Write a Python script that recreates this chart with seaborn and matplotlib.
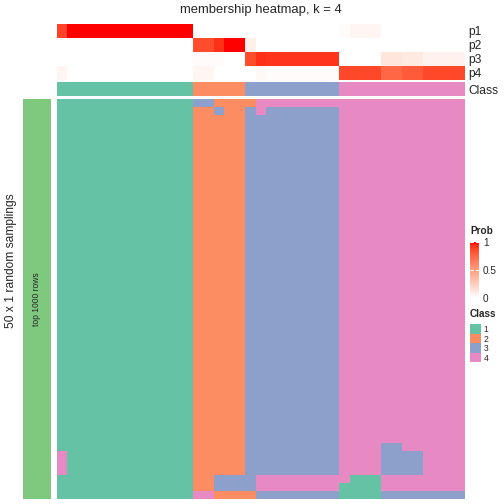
import numpy as np
import matplotlib
matplotlib.use('Agg')
import matplotlib.pyplot as plt
import seaborn as sns
from matplotlib.colors import ListedColormap, LinearSegmentedColormap

sns.set_style('white')
plt.rcParams['font.family'] = ['Liberation Sans', 'DejaVu Sans']

# Membership probabilities for the 39 samples (columns)
p1 = [0.88, 1, 1, 1, 1, 1, 1, 1, 1, 1, 1, 1, 1,
      0, 0, 0, 0, 0,
      0, 0, 0, 0, 0, 0, 0, 0, 0,
      0.02, 0.05, 0.05, 0.05, 0, 0, 0, 0, 0, 0, 0, 0]
p2 = [0, 0, 0, 0, 0, 0, 0, 0, 0, 0, 0, 0, 0,
      0.85, 0.85, 0.93, 1, 1,
      0.08, 0, 0, 0, 0, 0, 0, 0, 0,
      0, 0, 0, 0, 0, 0, 0, 0, 0, 0, 0, 0]
p3 = [0, 0, 0, 0, 0, 0, 0, 0, 0, 0, 0, 0, 0,
      0.02, 0.02, 0.02, 0, 0,
      0.85, 0.93, 0.92, 0.92, 0.92, 0.92, 0.92, 0.92, 0.92,
      0.01, 0, 0, 0, 0.13, 0.13, 0.11, 0.11, 0.07, 0.07, 0.07, 0.07]
p4 = [0.05, 0, 0, 0, 0, 0, 0, 0, 0, 0, 0, 0, 0,
      0.05, 0.05, 0, 0, 0,
      0, 0.04, 0.02, 0.02, 0.02, 0.02, 0.02, 0.02, 0.02,
      0.87, 0.87, 0.87, 0.87, 0.75, 0.75, 0.8, 0.8, 0.87, 0.87, 0.87, 0.87]
prob_labels = ['p1', 'p2', 'p3', 'p4']

# Consensus class of each sample
class_row = ("1111111111111" "22222" "333333333" "444444444444")

# Class assigned in each of the 50 random samplings (run-length: pattern, repeats)
sampling_patterns = [
    ("1111111111111" "33" "2222" "44444444444444444444", 1),
    ("1111111111111" "22" "3" "22" "3" "4" "3333333" "444444444444", 1),
    ("1111111111111" "22222" "333333333" "444444444444", 41),
    ("1111111111111" "22222" "333333333" "4444" "33" "444444", 1),
    ("4" "111111111111" "22222" "333333333" "4444" "3333" "4444", 3),
    ("1111111111111" "22" "3333" "444444444" "111" "44444444", 1),
    ("1111111111111" "22" "3333" "44444444" "1111" "44444444", 1),
    ("1111111111111" "44" "2222" "33333333" "1111" "33333333", 1),
]

class_colors = ['#66C2A5', '#FC8D62', '#8DA0CB', '#E78AC3']
class_names = ['1', '2', '3', '4']


def lab_to_rgb(L, a, b):
    fy = (L + 16) / 116
    fx = fy + a / 500
    fz = fy - b / 200

    def finv(t):
        return t ** 3 if t > 6 / 29 else 3 * (6 / 29) ** 2 * (t - 4 / 29)

    X, Y, Z = 0.95047 * finv(fx), finv(fy), 1.08883 * finv(fz)
    lin = [3.2406 * X - 1.5372 * Y - 0.4986 * Z,
           -0.9689 * X + 1.8758 * Y + 0.0415 * Z,
           0.0557 * X - 0.2040 * Y + 1.0570 * Z]
    out = []
    for c in lin:
        c = 12.92 * c if c <= 0.0031308 else 1.055 * c ** (1 / 2.4) - 0.055
        out.append(min(max(c, 0), 1))
    return out


# white -> red ramp interpolated in LAB space
ts = np.linspace(0, 1, 21)
prob_cmap = LinearSegmentedColormap.from_list(
    'prob', [lab_to_rgb(100 - t * 46.76, t * 80.09, t * 67.20) for t in ts])
class_cmap = ListedColormap(class_colors)

W = 504.0


def rect(x0, y0, x1, y1):
    return [x0 / W, 1 - y1 / W, (x1 - x0) / W, (y1 - y0) / W]


prob = np.array([p1, p2, p3, p4])
cls = np.array([[int(c) for c in class_row]])
rows = []
for pattern, n in sampling_patterns:
    for _ in range(n):
        rows.append([int(c) for c in pattern])
main = np.array(rows)

fig = plt.figure(figsize=(7, 7), dpi=72)

# Top: probability rows with colour bar
ax_prob = fig.add_axes(rect(56.7, 24, 465, 80))
cax = fig.add_axes(rect(470, 242, 479, 298))
sns.heatmap(prob, ax=ax_prob, cmap=prob_cmap, vmin=0, vmax=1, cbar_ax=cax,
            xticklabels=False, yticklabels=prob_labels)
ax_prob.yaxis.tick_right()
ax_prob.tick_params(axis='y', length=0, labelsize=12, pad=3, labelrotation=0)

cbar = ax_prob.collections[0].colorbar
cbar.outline.set_visible(False)
cbar.set_ticks([0, 0.5, 1])
cbar.set_ticklabels(['0', '0.5', '1'])
cax.tick_params(length=0, labelsize=10, pad=4)
for v in [0.5, 0.995]:
    cax.axhline(v, xmin=0, xmax=0.3, color='white', lw=1)
    cax.axhline(v, xmin=0.7, xmax=1, color='white', lw=1)

# Class annotation row
ax_cls = fig.add_axes(rect(56.7, 82, 465, 96))
sns.heatmap(cls, ax=ax_cls, cmap=class_cmap, vmin=0.5, vmax=4.5, cbar=False,
            xticklabels=False, yticklabels=['Class'])
ax_cls.yaxis.tick_right()
ax_cls.tick_params(axis='y', length=0, labelsize=12, pad=3, labelrotation=0)

# Main membership heatmap
ax_main = fig.add_axes(rect(56.7, 99, 465, 499))
sns.heatmap(main, ax=ax_main, cmap=class_cmap, vmin=0.5, vmax=4.5, cbar=False,
            xticklabels=False, yticklabels=False)

# Left annotation bar
ax_left = fig.add_axes(rect(22.7, 99, 51, 499))
sns.heatmap(np.array([[1]]), ax=ax_left, cmap=ListedColormap(['#7FC97F']),
            cbar=False, xticklabels=False, yticklabels=False)
ax_left.text(0.5, 0.5, 'top 1000 rows', rotation=90, fontsize=8.5,
             ha='center', va='center', transform=ax_left.transAxes)

# Class legend
ax_leg = fig.add_axes(rect(470, 324, 480.5, 362))
sns.heatmap(np.array([[1], [2], [3], [4]]), ax=ax_leg, cmap=class_cmap,
            vmin=0.5, vmax=4.5, cbar=False, xticklabels=False,
            yticklabels=class_names)
ax_leg.yaxis.tick_right()
ax_leg.tick_params(axis='y', length=0, labelsize=8.5, pad=3, labelrotation=0)

fig.text(470 / W, 1 - 231.5 / W, 'Prob', fontsize=10, fontweight='bold',
         ha='left', va='center')
fig.text(470 / W, 1 - 314 / W, 'Class', fontsize=10, fontweight='bold',
         ha='left', va='center')

fig.text(11 / W, 1 - 261 / W, '50 x 1 random samplings', rotation=90,
         fontsize=12, ha='center', va='center')
fig.text(260.9 / W, 1 - 10.5 / W, 'membership heatmap, k = 4', fontsize=13,
         ha='center', va='center')

fig.savefig('out.png', dpi=72)
